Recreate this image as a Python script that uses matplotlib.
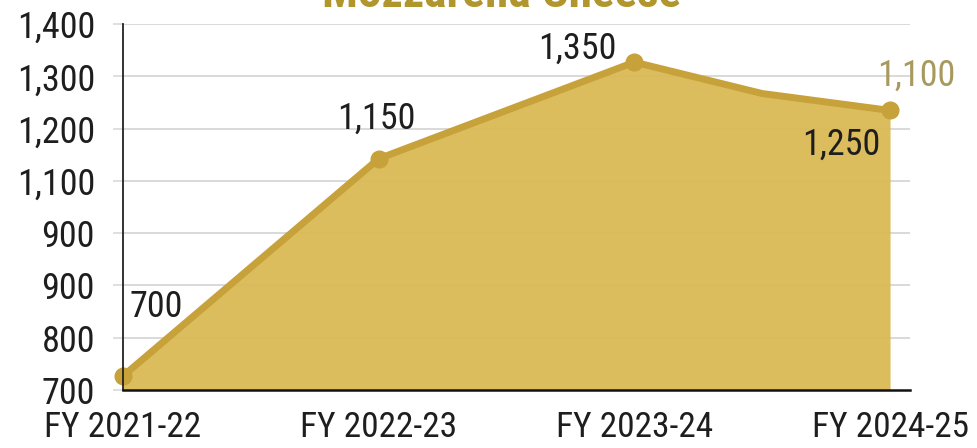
import numpy as np
import matplotlib
matplotlib.use("Agg")
import matplotlib.pyplot as plt

# Data
categories = ["FY 2021-22", "FY 2022-23", "FY 2023-24", "FY 2024-25"]
x_pos = [0, 1, 2, 2.5, 3]
values = [700, 1150, 1350, 1285, 1250]
marker_idx = [0, 1, 2, 4]
point_labels = ["700", "1,150", "1,350", "1,250"]
extra_label = "1,100"
y_tick_labels = ["700", "800", "900", "900", "1,100", "1,200", "1,300", "1,400"]
title = "Mozzarella Cheese"

FONT = ["Roboto Condensed", "Liberation Sans Narrow", "Roboto", "DejaVu Sans"]
plt.rcParams["font.family"] = FONT

FILL = "#D9B852"
LINE = "#C7A13A"
GRID = "#D9D9D9"
TEXT = "#1E1E1E"

fig = plt.figure(figsize=(9.77, 4.48), dpi=100)
W, H = 977, 448
ax = fig.add_axes([123 / W, (H - 390) / H, (910 - 123) / W, (390 - 24) / H])

ylim = (671, 1429)
ax.set_ylim(*ylim)
ax.set_xlim(0, 3.078)

# gridlines and y ticks
yt = np.linspace(ylim[0], ylim[1], len(y_tick_labels))
ax.set_yticks(yt)
ax.set_yticklabels(y_tick_labels, fontsize=26, color=TEXT)
ax.tick_params(axis="y", length=7.2, width=1.2, color=GRID, pad=13)
for y in yt[1:]:
    ax.axhline(y, color=GRID, lw=1.4, zorder=0)

ax.set_xticks([0, 1, 2, 3])
ax.set_xticklabels(categories, fontsize=25.5, color=TEXT)
ax.tick_params(axis="x", length=0, pad=15)

# area and line
ax.fill_between(x_pos, values, ylim[0], color=FILL, alpha=0.93, lw=0, zorder=1)
ax.plot(x_pos, values, color=LINE, lw=5, solid_joinstyle="round",
        solid_capstyle="round", zorder=3, clip_on=False)
ax.plot([x_pos[i] for i in marker_idx], [values[i] for i in marker_idx],
        "o", color=LINE, ms=12, zorder=4, clip_on=False)

for s in ["top", "right"]:
    ax.spines[s].set_visible(False)
ax.spines["left"].set_color("#222222")
ax.spines["left"].set_linewidth(1.3)
ax.spines["bottom"].set_color("#111111")
ax.spines["bottom"].set_linewidth(1.8)
ax.spines["left"].set_zorder(5)
ax.spines["bottom"].set_zorder(5)

# value labels (offsets in points)
offsets = [(5, 50, "left"), (-2, 29, "center"), (-13, 10, "right"), (-7, -25, "right")]
for i, lab, (dx, dy, ha) in zip(marker_idx, point_labels, offsets):
    ax.annotate(lab, (x_pos[i], values[i]), xytext=(dx, dy),
                textcoords="offset points", ha=ha, va="center",
                fontsize=26, color=TEXT, zorder=6)
ax.annotate(extra_label, (x_pos[-1], values[-1]), xytext=(-9, 25),
            textcoords="offset points", ha="left", va="center",
            fontsize=26, color="#A89A5E", zorder=6)

fig.text(502 / W, 1 - 7 / H, title, ha="center", va="baseline",
         fontsize=34, fontweight="bold", color="#B0962C")

fig.savefig("out.png", dpi=100)
